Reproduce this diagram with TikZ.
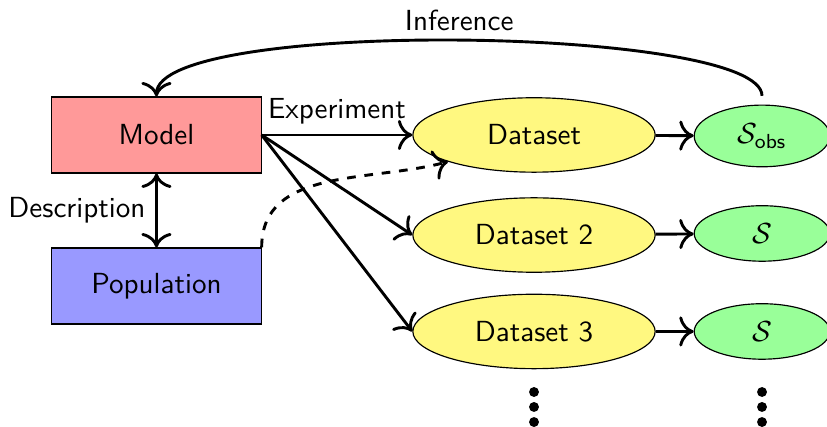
\documentclass[tikz,border=0pt]{standalone}
\usetikzlibrary{shapes.geometric, arrows.meta}

\tikzset{
  box/.style={draw, rectangle, minimum width=2.53cm, minimum height=0.92cm},
  data/.style={draw, ellipse, fill=yellow!50, minimum width=2.93cm, minimum height=0.9cm},
  stat/.style={draw, ellipse, fill=green!40, minimum width=1.64cm},
  link/.style={->, line width=1pt},
}

\begin{document}
\begin{tikzpicture}[font=\sffamily, >={To[scale=1.3]}]
    \useasboundingbox (0,0) rectangle (10,-5.163);
    \node[box, fill=red!40] (model) at (1.892,-1.632) {Model};
    \node[box, fill=blue!40] (pop) at (1.892,-3.458) {Population};
    \node[data] (data1) at (6.457,-1.632) {Dataset};
    \node[data] (data2) at (6.457,-2.842) {Dataset 2};
    \node[data] (data3) at (6.457,-4.008) {Dataset 3};
    \node[stat] (sobs) at (9.214,-1.644) {$\mathcal{S}_{\mathsf{obs}}$};
    \node[stat] (s2) at (9.214,-2.823) {$\mathcal{S}$};
    \node[stat] (s3) at (9.214,-4.008) {$\mathcal{S}$};
    \draw[link] (model.east) -- (data1.west) node[midway, above] {Experiment};
    \draw[link] (model.east) -- (data2.west);
    \draw[link] (model.east) -- (data3.west);
    \draw[<->, line width=1pt] (model) -- (pop) node[midway, left] {Description};
    \draw[link, dashed] (pop.north east) to[out=90, in=195] (data1.south west);
    \draw[link] (data1) -- (sobs);
    \draw[link] (data2) -- (s2);
    \draw[link] (data3) -- (s3);
    \draw[link, shorten <=3pt] (sobs.north) .. controls +(0,0.95) and +(0,0.95) .. (model.north) node[midway, above] {Inference};
    % vertical dots
    \fill (6.457,-4.740) circle (0.06) (6.457,-4.921) circle (0.06) (6.457,-5.103) circle (0.06);
    \fill (9.214,-4.740) circle (0.06) (9.214,-4.921) circle (0.06) (9.214,-5.103) circle (0.06);
  \end{tikzpicture}
\end{document}
